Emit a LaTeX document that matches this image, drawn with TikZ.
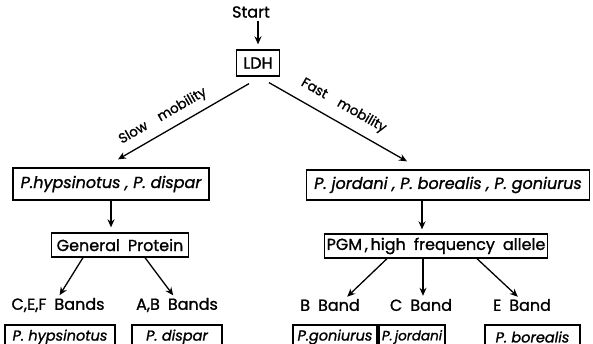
\documentclass[tikz,border=0pt]{standalone}
\usepackage{fontspec}
\setmainfont{Poppins}[FakeBold=1.2]
\usetikzlibrary{arrows.meta}

\begin{document}
\begin{tikzpicture}[x=1pt,y=1pt,
  font=\fontsize{16}{18}\selectfont,
  box/.style={draw,line width=1.3pt,inner sep=0pt,minimum height=24pt},
  arr/.style={-{Stealth[length=8pt,width=7pt]},line width=1.3pt},
  lbl/.style={inner sep=0pt},
  sp/.style={font=\fontsize{16}{18}\selectfont\itshape},
  spsmall/.style={font=\fontsize{14.5}{16}\selectfont\itshape},
  mob/.style={font=\fontsize{13.5}{15}\selectfont}]
  \useasboundingbox (0,0) rectangle (593,343);

  % Top
  \node[lbl] (start) at (251,331) {Start};
  \node[box,minimum width=43pt,minimum height=26pt] (ldh) at (258,280) {LDH};
  \draw[arr,shorten <=3pt,shorten >=5pt] (start.south -| ldh.north) -- (ldh.north);

  % Slow mobility branch
  \node[box,sp,minimum width=196pt,minimum height=32pt] (hd) at (111,159) {P.hypsinotus , P. dispar};
  \draw[arr] ([xshift=-9pt,yshift=-7pt]ldh.south) -- ([xshift=7pt,yshift=8pt]hd.north)
    node[pos=0.6,sloped,above=4pt,mob] {Slow\quad mobility};
  \node[box,minimum width=137pt] (gp) at (120,98) {General\enspace Protein};
  \draw[arr,shorten >=5pt] (hd.south) -- (hd.south |- gp.north);

  % Fast mobility branch
  \node[box,sp,minimum width=283pt,minimum height=30pt] (jbg) at (448,158) {P. jordani , P. borealis , P. goniurus};
  \draw[arr] ([xshift=11pt,yshift=-6pt]ldh.south) -- ([xshift=-41pt,yshift=8pt]jbg.north)
    node[pos=0.48,sloped,above=6pt,mob] {Fast\quad mobility};
  \node[box,minimum width=223pt] (pgm) at (436,97) {PGM\,,\,high\enspace frequency\enspace allele};
  \draw[arr,shorten >=4pt] ([xshift=-26pt]jbg.south) -- ([xshift=-14pt]pgm.north);

  % Bands, general protein
  \node[lbl] (cef) at (58,38) {C,E,F\enspace Bands};
  \node[lbl] (ab) at (177,38) {A,B\enspace Bands};
  \draw[arr,shorten >=3pt] ([xshift=-37pt]gp.south) -- (cef.north);
  \draw[arr,shorten >=3pt] ([xshift=25pt]gp.south) -- ([xshift=-2pt]ab.north);
  \node[box,spsmall,minimum width=110pt] (hyp) at (60,6) {P. hypsinotus};
  \node[box,spsmall,minimum width=90pt] (dis) at (177,6) {P. dispar};

  % Bands, PGM
  \node[lbl] (bb) at (330,38) {B\enspace Band};
  \node[lbl] (cb) at (421,38) {C\enspace Band};
  \node[lbl] (eb) at (522,38) {E\enspace Band};
  \draw[arr,shorten >=3pt] ([xshift=-49pt]pgm.south) -- ([xshift=15pt]bb.north);
  \draw[arr,shorten >=3pt] ([xshift=-13pt]pgm.south) -- ([xshift=2pt]cb.north);
  \draw[arr,shorten >=3pt] ([xshift=41pt]pgm.south) -- ([xshift=-2pt]eb.north);
  \node[box,spsmall,minimum width=84pt] (gon) at (335,6) {P.goniurus};
  \node[box,spsmall,font=\fontsize{13.5}{15}\selectfont\itshape,minimum width=66pt] (jor) at (412,6) {P.\,jordani};
  \node[box,spsmall,minimum width=95pt] (bor) at (532.5,6) {P. borealis};
\end{tikzpicture}
\end{document}
